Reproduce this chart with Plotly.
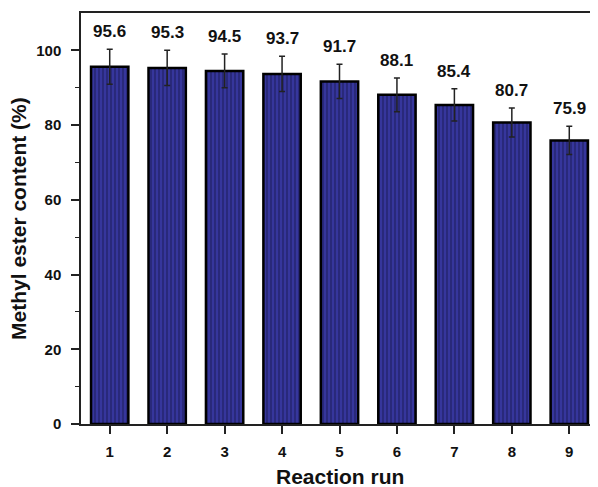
import plotly.graph_objects as go

runs = [1, 2, 3, 4, 5, 6, 7, 8, 9]
content = [95.6, 95.3, 94.5, 93.7, 91.7, 88.1, 85.4, 80.7, 75.9]
errors = [4.7, 4.7, 4.5, 4.7, 4.6, 4.5, 4.3, 3.9, 3.8]
labels = ["95.6", "95.3", "94.5", "93.7", "91.7", "88.1", "85.4", "80.7", "75.9"]
x_title = "Reaction run"
y_title = "Methyl ester content (%)"

FONT = "Liberation Sans, Arial, sans-serif"

fig = go.Figure()
fig.add_trace(go.Bar(
    x=runs, y=content, width=0.65,
    marker=dict(
        color="#36369c",
        line=dict(color="black", width=2.5),
        pattern=dict(shape="|", fillmode="overlay", fgcolor="#08082a", size=4, solidity=0.3),
    ),
    error_y=dict(type="data", array=errors, visible=True, color="#222222", thickness=1.5, width=3),
    showlegend=False,
))

for xv, yv, ev, lab in zip(runs, content, errors, labels):
    fig.add_annotation(x=xv, y=yv + ev, text="<b>%s</b>" % lab, showarrow=False,
                       yanchor="bottom", yshift=6,
                       font=dict(family=FONT, size=17, color="#111111"))

# axis titles
fig.add_annotation(xref="paper", yref="paper", x=0.5, y=-0.128, xanchor="center", yanchor="middle",
                   text="<b>%s</b>" % x_title, showarrow=False,
                   font=dict(family=FONT, size=21, color="#111111"))
fig.add_annotation(xref="paper", yref="paper", x=-0.121, y=0.5, xanchor="center", yanchor="middle",
                   text="<b>%s</b>" % y_title, showarrow=False, textangle=-90,
                   font=dict(family=FONT, size=21, color="#111111"))

# the page body adds an 8px margin, so the figure is 8px smaller than the window
fig.update_layout(
    width=590, height=479,
    margin=dict(l=73, r=0, t=5, b=63),
    paper_bgcolor="white", plot_bgcolor="white",
    font=dict(family=FONT, color="#111111"),
)
fig.update_xaxes(
    range=[0.5, 9.5], tickvals=runs, ticktext=[str(r) for r in runs],
    showline=True, linecolor="#222222", linewidth=1.5, mirror=True,
    ticks="outside", ticklen=8, tickwidth=1.5, tickcolor="#222222",
    ticklabelstandoff=5, automargin=False,
    showgrid=False, zeroline=False,
    tickfont=dict(family=FONT, size=15, weight="bold"),
)
fig.update_yaxes(
    range=[0, 110], tickvals=[0, 20, 40, 60, 80, 100],
    showline=True, linecolor="#222222", linewidth=1.5, mirror=False,
    ticks="outside", ticklen=8, tickwidth=1.5, tickcolor="#222222",
    ticklabelstandoff=7, automargin=False,
    minor=dict(tickvals=[10, 30, 50, 70, 90], ticks="outside", ticklen=4, tickwidth=1, tickcolor="#222222"),
    showgrid=False, zeroline=False,
    tickfont=dict(family=FONT, size=15, weight="bold"),
)

fig.write_html("out.html")
